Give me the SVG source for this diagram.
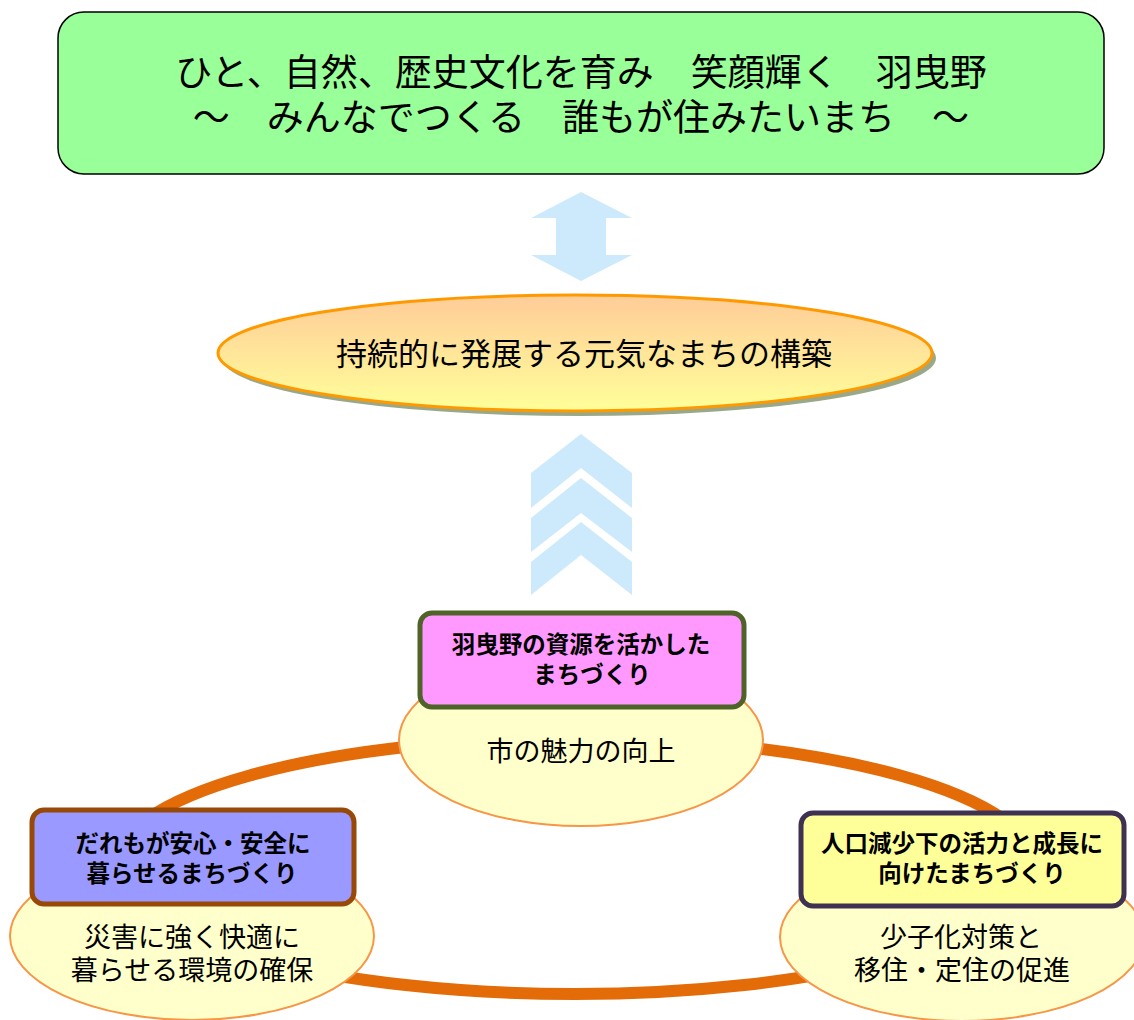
<svg xmlns="http://www.w3.org/2000/svg" width="1134" height="1020" viewBox="0 0 1134 1020">
<style>
.t{font-family:"Noto Sans CJK JP","Noto Sans CJK SC",sans-serif;fill:#000;text-anchor:middle}
.b{font-weight:bold;font-size:23.5px}
.n{font-size:27px}
.arrow{fill:#cdeafc}
.bub{fill:#ffffcc;stroke:#f79646;stroke-width:2}
</style>
<defs>
<linearGradient id="g1" x1="0" y1="0" x2="0" y2="1">
<stop offset="0" stop-color="#ffcc99"/>
<stop offset="1" stop-color="#ffff99"/>
</linearGradient>
</defs>
<rect width="1134" height="1020" fill="#fff"/>
<g id="vision">
<rect x="58" y="12" width="1046" height="162" rx="26" fill="#99ff99" stroke="#000" stroke-width="1.5"/>
<text class="t" font-size="37"><tspan x="581" y="86">ひと、自然、歴史文化を育み　笑顔輝く　羽曳野</tspan><tspan x="581" y="131">～　みんなでつくる　誰もが住みたいまち　～</tspan></text>
</g>
<g id="connectors">
<polygon class="arrow" points="581,192 632,218 606,218 606,255 632,255 581,281 531,255 556,255 556,218 531,218"/>
<polygon class="arrow" points="581,434 632,473 632,508 581,468 531,508 531,473"/>
<polygon class="arrow" points="581,478 632,518 632,552 581,513 531,552 531,518"/>
<polygon class="arrow" points="581,522 632,562 632,595 581,555 531,595 531,562"/>
<ellipse cx="575" cy="866" rx="460" ry="128" fill="none" stroke="#e36c09" stroke-width="12"/>
</g>
<g id="goal">
<ellipse cx="579" cy="358" rx="357" ry="58" fill="#9aa88a"/>
<ellipse cx="575" cy="353" rx="357" ry="58" fill="url(#g1)" stroke="#ff9900" stroke-width="3"/>
<text class="t" x="584" y="365" font-size="31">持続的に発展する元気なまちの構築</text>
</g>
<g id="node-top">
<ellipse class="bub" cx="581" cy="740" rx="182" ry="86"/>
<rect x="420" y="613" width="324" height="94" rx="12" fill="#ff99ff" stroke="#4f6228" stroke-width="5"/>
<text class="t b"><tspan x="581" y="653">羽曳野の資源を活かした</tspan><tspan x="592" y="683">まちづくり</tspan></text>
<text class="t n" x="581" y="761">市の魅力の向上</text>
</g>
<g id="node-left">
<ellipse class="bub" cx="192" cy="936" rx="182" ry="84"/>
<rect x="32" y="810" width="322" height="94" rx="12" fill="#9999ff" stroke="#984807" stroke-width="5"/>
<text class="t b"><tspan x="193" y="852">だれもが安心・安全に</tspan><tspan x="192" y="882">暮らせるまちづくり</tspan></text>
<text class="t n"><tspan x="192" y="947">災害に強く快適に</tspan><tspan x="192" y="980">暮らせる環境の確保</tspan></text>
</g>
<g id="node-right">
<ellipse class="bub" cx="962" cy="937" rx="182" ry="84"/>
<rect x="801" y="813" width="323" height="93" rx="12" fill="#ffff99" stroke="#3f3151" stroke-width="5"/>
<text class="t b"><tspan x="962" y="852">人口減少下の活力と成長に</tspan><tspan x="972" y="882">向けたまちづくり</tspan></text>
<text class="t n"><tspan x="961" y="947">少子化対策と</tspan><tspan x="962" y="980">移住・定住の促進</tspan></text>
</g>
</svg>
